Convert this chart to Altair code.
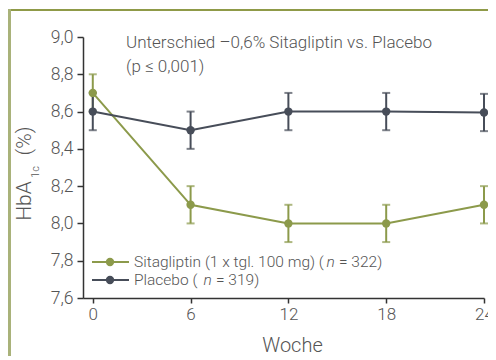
import altair as alt
import pandas as pd

weeks = [0, 6, 12, 18, 24]
sita_vals = [8.70, 8.10, 8.00, 8.00, 8.10]
sita_err = [0.10, 0.10, 0.10, 0.10, 0.10]
plac_vals = [8.60, 8.50, 8.60, 8.60, 8.595]
plac_err = [0.10, 0.10, 0.10, 0.10, 0.10]
series = ["Sitagliptin", "Placebo"]
colors = ["#8c9a4b", "#474d59"]
y_ticks = [7.6, 7.8, 8.0, 8.2, 8.4, 8.6, 8.8, 9.0]
x_ticks = [0, 6, 12, 18, 24]

rows = []
for s, vals, errs in [(series[0], sita_vals, sita_err), (series[1], plac_vals, plac_err)]:
    for w, v, e in zip(weeks, vals, errs):
        rows.append({"week": w, "val": v, "lo": v - e, "hi": v + e, "series": s})
df = pd.DataFrame(rows)

FONT = "Roboto"
TXT = "#555555"
W, H = 401, 261
OX, OY = 83, 37  # plot origin in page pixels

xscale = alt.Scale(domain=[-0.6, 24], nice=False, zero=False)
yscale = alt.Scale(domain=[7.6, 9.0], nice=False, zero=False)
xaxis = alt.Axis(values=x_ticks, title="Woche", labelFlush=False, labelOverlap=False,
                 grid=False, tickSize=5, labelPadding=3, titlePadding=13,
                 titleX=292 - OX, titleAlign="center",
                 labelFontSize=17, titleFontSize=20, labelFont=FONT, titleFont=FONT,
                 labelFontWeight=300, titleFontWeight=300, labelColor=TXT, titleColor=TXT)
yaxis = alt.Axis(values=y_ticks, title=None, labelOverlap=False, grid=False,
                 labelExpr="replace(format(datum.value, '.1f'), '.', ',')",
                 tickSize=6, labelPadding=4, labelFontSize=17.5, labelFont=FONT,
                 labelFontWeight=300, labelColor=TXT)

def X(f):
    return alt.X(f, scale=xscale, axis=xaxis)

def Y(f):
    return alt.Y(f, scale=yscale, axis=yaxis)

col = alt.Color("series:N", scale=alt.Scale(domain=series, range=colors), legend=None)

base = alt.Chart(df)
lines = base.mark_line(strokeWidth=2).encode(x=X("week:Q"), y=Y("val:Q"), color=col)
err = base.mark_rule(strokeWidth=2).encode(x=X("week:Q"), y=Y("lo:Q"), y2="hi:Q", color=col)
cap_lo = base.mark_tick(size=8, thickness=2, orient="horizontal").encode(x=X("week:Q"), y=Y("lo:Q"), color=col)
cap_hi = base.mark_tick(size=8, thickness=2, orient="horizontal").encode(x=X("week:Q"), y=Y("hi:Q"), color=col)
pts = base.mark_circle(size=70, opacity=1).encode(x=X("week:Q"), y=Y("val:Q"), color=col)

def px(x):
    return alt.value(x - OX)

def py(y):
    return alt.value(y - OY)

one = pd.DataFrame({"a": [0]})

def text(t, x, y, size=15.5, **kw):
    return alt.Chart(one).mark_text(text=t, fontSize=size, font=FONT, color=TXT,
                                    fontWeight=300, **kw).encode(x=px(x), y=py(y))

anno1 = text("Unterschied \u20130,6% Sitagliptin vs. Placebo", 126, 43, size=17, align="left", baseline="middle")
anno2 = text("(p \u2264 0,001)", 126, 67, size=17, align="left", baseline="middle")

# y-axis title with subscript
yt1 = text("HbA", 25, 201, size=21, angle=270, align="center", baseline="middle")
yt2 = text("1c", 36, 172, size=11, angle=270, align="center", baseline="middle")
yt3 = text("(%)", 25, 141, size=21, angle=270, align="center", baseline="middle")

# legend
leg = []
for s, c, yy, a, nx, rest, rx in [
    (series[0], colors[0], 262, "Sitagliptin (1 x tgl. 100 mg)  (", 326.5, "= 322)", 339),
    (series[1], colors[1], 280, "Placebo  (", 203.5, "= 319)", 216),
]:
    leg.append(alt.Chart(one).mark_rule(color=c, strokeWidth=2).encode(
        x=px(92), x2=px(129), y=py(yy)))
    leg.append(alt.Chart(one).mark_circle(color=c, size=70, opacity=1).encode(
        x=px(110), y=py(yy)))
    leg.append(text(a, 134, yy, align="left", baseline="middle"))
    leg.append(text("n", nx, yy, align="left", baseline="middle", fontStyle="italic"))
    leg.append(text(rest, rx, yy, align="left", baseline="middle"))

# frame
frame_top = alt.Chart(one).mark_rule(color="#8f9a48", strokeWidth=2).encode(
    x=px(8), x2=px(520), y=py(10))
frame_left = alt.Chart(one).mark_rule(color="#a9b27a", strokeWidth=3).encode(
    x=px(9.5), y=py(9), y2=py(400))

chart = alt.layer(frame_top, frame_left, lines, err, cap_lo, cap_hi, pts, anno1, anno2,
                  yt1, yt2, yt3, *leg).properties(
    width=W, height=H,
    background="white",
    autosize=alt.AutoSizeParams(type="none"),
    padding={"left": OX - 8, "top": OY - 8, "right": 488 - OX - W, "bottom": 348 - (OY - 8) - H},
).configure_view(stroke=None).configure_axis(
    domainColor="#333333", tickColor="#333333", domainWidth=1.5, tickWidth=1.5,
)

chart.save("out.html", embed_options={"renderer": "svg", "actions": False})
